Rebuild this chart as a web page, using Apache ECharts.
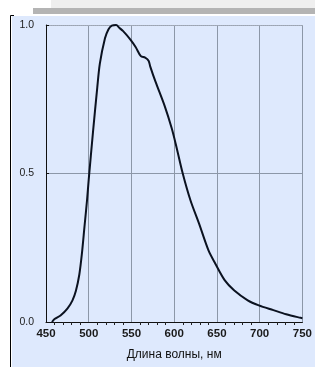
<!DOCTYPE html>
<html>
<head>
<meta charset="utf-8">
<script src="https://cdn.jsdelivr.net/npm/echarts@6/dist/echarts.min.js"></script>
<style>
  html, body { margin: 0; padding: 0; background: #fff; }
  #chart { width: 315px; height: 370px; }
</style>
</head>
<body>
<div id="chart"></div>
<script>
// длина волны, нм
const wavelengths = [457, 460, 467, 475, 481, 485, 489, 492, 495, 498, 500, 505, 510, 513, 519, 523, 527, 532, 536, 540,
  549, 555, 561, 566, 570, 572, 578, 589, 597, 602, 610, 619, 629, 640, 648, 659, 670, 686, 699, 716, 731, 748, 750]
// относительная чувствительность
const sensitivity = [0, 0.01, 0.022, 0.045, 0.073, 0.105, 0.16, 0.23, 0.32, 0.41, 0.48, 0.64, 0.79, 0.87, 0.955, 0.985, 0.998, 1.0, 0.99, 0.98,
  0.95, 0.925, 0.895, 0.89, 0.88, 0.86, 0.81, 0.726, 0.653, 0.597, 0.5, 0.41, 0.332, 0.242, 0.197, 0.141, 0.107, 0.073, 0.056, 0.04, 0.026, 0.014, 0.013]
const xTicks = [450, 500, 550, 600, 650, 700, 750]
const yTicks = [0.0, 0.5, 1.0]
const xTitle = 'Длина волны, нм'

const chart = echarts.init(document.getElementById('chart'))
const gridColor = '#8c97a8'
const font = 'Liberation Sans'

chart.setOption({
  animation: false,
  graphic: [
    { type: 'rect', z: -10, shape: { x: 51, y: 0, width: 264, height: 8 }, style: { fill: '#efefef' } },
    { type: 'rect', z: -10, shape: { x: 33, y: 8, width: 282, height: 6 }, style: { fill: '#b4b4b4' } },
    { type: 'rect', z: -10, shape: { x: 12, y: 16, width: 303, height: 351 }, style: { fill: '#dee9fd' } },
    { type: 'polyline', z: -5, shape: { points: [[14, 15.5], [10.5, 15.5], [10.5, 367]] }, style: { stroke: '#000', lineWidth: 1, fill: null } }
  ],
  grid: { left: 46, right: 5, top: 25, bottom: 48 },
  xAxis: [{
    type: 'value',
    min: xTicks[0],
    max: xTicks[xTicks.length - 1],
    interval: 50,
    name: xTitle,
    nameLocation: 'middle',
    nameGap: 27,
    nameTextStyle: { fontSize: 12, color: '#111', fontFamily: font },
    axisLine: { lineStyle: { color: '#111', width: 1 } },
    axisTick: { show: false },
    minorTick: { show: true, splitNumber: 5, length: 3, lineStyle: { color: '#222' } },
    axisLabel: { fontSize: 11.5, fontWeight: 'bold', fontFamily: font, color: '#1a1a1a', margin: 6 },
    splitLine: { show: true, lineStyle: { color: gridColor, width: 1 } }
  }, {
    type: 'value',
    position: 'top',
    min: xTicks[0],
    max: xTicks[xTicks.length - 1],
    axisLine: { show: true, lineStyle: { color: '#a4acba', type: 'dotted' } },
    axisTick: { show: false },
    axisLabel: { show: false },
    splitLine: { show: false }
  }],
  yAxis: {
    type: 'value',
    min: 0,
    max: 1,
    interval: 0.5,
    axisLine: { show: true, lineStyle: { color: '#111' } },
    axisTick: { show: true, inside: true, length: 3, lineStyle: { color: '#111' } },
    axisLabel: { fontSize: 10.5, fontFamily: font, color: '#222', margin: 12, formatter: v => v.toFixed(1) },
    splitLine: { show: true, lineStyle: { color: gridColor, width: 1 } }
  },
  series: [{
    type: 'line',
    data: wavelengths.map((w, i) => [w, sensitivity[i]]),
    smooth: 0.3,
    showSymbol: false,
    lineStyle: { color: '#0b1220', width: 2 }
  }]
})
</script>
</body>
</html>
